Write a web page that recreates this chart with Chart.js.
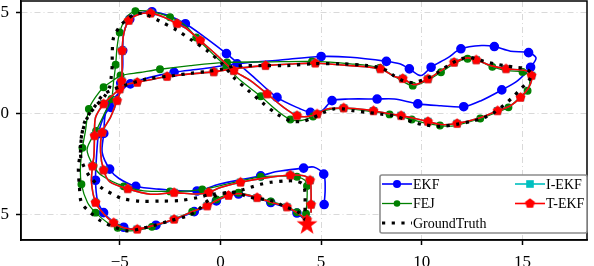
<!DOCTYPE html>
<html>
<head>
<meta charset="utf-8">
<script src="https://cdn.jsdelivr.net/npm/chart.js@4.4.1/dist/chart.umd.min.js"></script>
<style>
    html, body { margin: 0; padding: 0; background: #fff; }
    canvas { display: block; }
</style>
</head>
<body>
<canvas id="trajChart" width="594" height="266"></canvas>
<script>
// Axis ticks
const xTicks = [-5, 0, 5, 10, 15];
const yTicks = [-5, 0, 5];

// Start marker
const startPoint = [[4.3, -5.5]];

// Ground truth trajectory [x, y]
const gtPath = [
    [4.25,-5.3],[3.9,-4.9],[3.2,-4.6],[2.5,-4.3],[1.5,-4.15],[0.9,-3.95],[0.5,-3.88],[-0.2,-4.05],[-0.75,-4.4],
    [-1.15,-4.8],[-1.65,-5.06],[-2.5,-5.3],[-3.4,-5.56],[-4.0,-5.7],[-4.6,-5.8],[-5.3,-5.6],[-5.95,-5.3],
    [-6.45,-4.9],[-6.9,-4.4],[-7.0,-3.6],[-7.05,-2.7],[-6.95,-1.9],[-6.9,-1.2],[-6.75,-0.45],[-6.5,0.0],
    [-6.2,0.4],[-5.85,0.9],[-5.4,1.15],[-4.8,1.37],[-3.64,1.7],[-2.3,1.87],[-1.5,1.98],[-0.6,2.08],[0.15,2.2],
    [0.7,2.33],[2.0,2.36],[3.3,2.36],[4.6,2.45],[6.0,2.45],[7.3,2.36],[7.8,2.28],[8.3,2.1],[8.6,1.87],[9.1,1.6],
    [9.6,1.53],[10.3,1.75],[10.8,2.03],[11.3,2.36],[11.8,2.64],[12.27,2.77],[12.7,2.69],[13.1,2.57],[13.6,2.45],
    [14.1,2.36],[14.6,2.28],[15.17,2.2],[15.45,1.95],[15.3,1.6],[14.9,1.2],[14.5,0.79],[14.1,0.43],[13.6,0.05],
    [13.1,-0.2],[12.44,-0.4],[11.77,-0.53],[10.95,-0.64],[10.1,-0.56],[9.63,-0.45],[9.13,-0.28],[8.6,-0.11],
    [7.94,-0.03],[7.3,0.05],[6.6,0.13],[6.1,0.22],[5.63,0.22],[5.13,0.05],[4.63,-0.2],[4.05,-0.4],[3.47,-0.36],
    [2.81,-0.03],[2.07,0.54],[1.4,1.12],[0.66,1.78],[0.08,2.45],[-0.66,3.1],[-1.4,3.6],[-2.15,4.1],[-3.0,4.55],
    [-3.8,4.92],[-4.2,4.92],[-4.6,4.67],[-4.96,4.34],[-5.3,3.76],[-5.37,3.0],[-5.37,2.4],[-5.42,1.8],[-5.5,1.3],
    [-5.75,0.85],[-6.2,0.35],[-6.6,-0.2],[-6.85,-0.9],[-6.95,-1.6],[-6.9,-2.3],[-6.5,-3.1],[-5.8,-3.75],
    [-5.3,-4.0],[-4.9,-4.2],[-4.0,-4.33],[-3.0,-4.33],[-2.0,-4.3],[-1.1,-4.15],[-0.5,-4.0],[0.5,-3.92],[1.0,-3.8],
    [1.5,-3.65],[2.0,-3.5],[2.5,-3.4],[3.3,-3.33],[3.8,-3.35],[4.1,-3.5],[4.2,-3.9],[4.2,-4.5],[4.2,-4.95]
];

// EKF estimate
const ekfPath = [
    [4.25,-5.3],[3.8,-4.92],[3.2,-4.62],[2.5,-4.4],[1.8,-4.18],[0.9,-3.98],[0.4,-4.06],[-0.2,-4.32],[-0.66,-4.6],
    [-1.3,-4.85],[-2.3,-5.25],[-3.2,-5.52],[-4.1,-5.72],[-4.8,-5.62],[-5.3,-5.35],[-5.8,-4.9],[-6.1,-4.3],
    [-6.2,-3.3],[-6.15,-2.1],[-6.05,-1.0],[-5.85,-0.3],[-5.5,0.45],[-5.0,1.05],[-4.47,1.46],[-3.5,1.78],
    [-2.3,2.03],[-1.0,2.19],[0.83,2.45],[2.98,2.64],[5.0,2.81],[6.45,2.77],[8.24,2.57],[8.9,2.45],[9.38,2.2],
    [9.96,1.87],[10.46,2.28],[11.28,2.74],[11.94,3.19],[12.97,3.35],[13.6,3.3],[14.4,3.07],[15.3,3.0],
    [15.67,2.74],[15.4,2.28],[14.76,1.62],[13.97,1.16],[12.94,0.63],[12.08,0.33],[10.95,0.38],[9.8,0.47],
    [8.64,0.71],[7.78,0.71],[6.37,0.71],[5.54,0.63],[5.05,0.13],[4.47,0.05],[3.97,0.22],[2.81,0.79],[1.57,1.87],
    [0.3,2.95],[-1.0,3.93],[-1.74,4.43],[-2.6,4.85],[-3.4,5.02],[-4.0,4.95],[-4.5,4.65],[-4.8,3.95],[-4.85,3.1],
    [-4.85,2.3],[-4.95,1.5],[-5.1,0.71],[-5.45,0.3],[-5.71,-0.03],[-5.79,-0.99],[-5.87,-1.93],[-5.5,-2.75],
    [-5.05,-3.2],[-4.2,-3.6],[-3.06,-3.74],[-1.16,-3.83],[-0.08,-3.5],[2.0,-3.08],[2.81,-2.87],[4.13,-2.7],
    [4.63,-2.65],[5.13,-3.0],[5.2,-3.74],[5.15,-4.5]
];

// FEJ estimate
const fejPath = [
    [4.25,-5.3],[3.8,-4.88],[3.2,-4.55],[2.5,-4.35],[1.7,-4.1],[0.9,-3.92],[0.35,-4.0],[-0.2,-4.25],[-0.7,-4.55],
    [-1.4,-4.85],[-2.4,-5.25],[-3.4,-5.6],[-4.47,-5.8],[-5.1,-5.65],[-5.6,-5.4],[-6.2,-4.9],[-6.6,-4.4],
    [-6.9,-3.5],[-6.95,-2.67],[-6.85,-1.7],[-6.7,-0.86],[-6.53,0.22],[-6.2,0.8],[-5.8,1.29],[-5.3,1.65],
    [-4.96,1.87],[-4.0,2.02],[-3.0,2.18],[-1.5,2.36],[0.33,2.52],[2.24,2.54],[4.55,2.57],[6.45,2.45],[7.9,2.25],
    [8.77,1.75],[9.55,1.37],[10.3,1.65],[10.95,2.03],[11.6,2.45],[12.27,2.7],[12.8,2.6],[13.5,2.3],[14.26,2.11],
    [15.0,2.05],[15.35,1.8],[15.25,1.12],[14.8,0.72],[14.3,0.3],[13.7,0.05],[12.9,-0.25],[11.6,-0.61],
    [10.9,-0.6],[10.2,-0.48],[9.5,-0.3],[8.9,-0.15],[8.4,-0.05],[7.5,0.1],[6.1,0.25],[5.2,0.15],[4.6,-0.15],
    [4.0,-0.35],[3.47,-0.3],[2.8,0.15],[2.0,0.85],[1.0,1.62],[0.3,2.3],[-0.5,3.05],[-1.2,3.75],[-1.74,4.34],
    [-2.5,4.75],[-3.3,5.0],[-4.22,5.05],[-4.7,4.7],[-5.0,4.0],[-5.13,3.27],[-5.2,2.4],[-5.3,1.6],[-5.41,0.71],
    [-5.8,-0.1],[-6.17,-0.86],[-6.62,-1.78],[-6.3,-2.6],[-5.87,-3.08],[-4.8,-3.6],[-3.8,-3.82],[-2.5,-3.85],
    [-1.5,-3.82],[-0.9,-3.75],[0.5,-3.45],[2.0,-3.13],[3.2,-3.1],[3.8,-3.13],[4.2,-3.3],[4.3,-3.58],[4.3,-4.24],
    [4.25,-4.95]
];

// T-EKF estimate
const tekfPath = [
    [4.3,-5.25],[3.8,-4.9],[3.3,-4.62],[2.56,-4.4],[1.82,-4.16],[0.91,-3.96],[0.4,-4.05],[-0.2,-4.3],[-0.66,-4.57],
    [-1.32,-4.82],[-2.3,-5.23],[-3.2,-5.5],[-4.13,-5.72],[-4.8,-5.65],[-5.3,-5.4],[-5.8,-4.95],[-6.2,-4.4],
    [-6.4,-3.4],[-6.35,-2.6],[-6.28,-2.1],[-6.25,-1.1],[-6.2,-0.2],[-5.8,0.47],[-5.37,0.88],[-5.0,1.2],
    [-4.55,1.46],[-4.13,1.53],[-3.3,1.7],[-2.65,1.82],[-1.5,1.95],[-0.33,2.05],[0.58,2.2],[2.24,2.36],[3.5,2.44],
    [4.71,2.48],[6.45,2.36],[7.94,2.2],[8.64,1.82],[9.05,1.72],[9.63,1.42],[10.3,1.7],[10.95,2.11],[11.6,2.52],
    [12.27,2.74],[12.7,2.64],[13.43,2.36],[14.18,2.2],[15.17,2.11],[15.45,1.87],[15.33,1.32],[14.9,0.79],
    [14.4,0.38],[13.76,0.13],[12.94,-0.2],[11.75,-0.5],[10.95,-0.55],[10.3,-0.4],[9.55,-0.23],[8.97,-0.11],
    [8.44,-0.03],[7.6,0.13],[6.9,0.22],[6.12,0.27],[5.3,0.22],[4.8,-0.03],[4.3,-0.16],[3.8,-0.11],[3.14,0.3],
    [2.32,0.96],[1.49,1.62],[0.66,2.11],[-0.16,2.86],[-1.0,3.6],[-1.74,4.23],[-2.15,4.43],[-2.8,4.75],
    [-3.47,4.95],[-4.05,4.89],[-4.55,4.59],[-4.8,3.93],[-4.88,3.1],[-4.88,2.27],[-4.9,1.6],[-4.96,1.12],
    [-5.13,0.63],[-5.46,-0.2],[-5.87,-0.94],[-5.95,-1.9],[-5.8,-2.8],[-5.5,-3.37],[-4.6,-3.72],[-3.47,-3.99],
    [-2.3,-3.91],[-1.3,-3.98],[-0.58,-3.9],[0.0,-3.66],[1.0,-3.4],[2.32,-3.17],[3.47,-3.05],[4.13,-3.08],
    [4.45,-3.3],[4.5,-3.9],[4.5,-4.5],[4.5,-4.9]
];

// I-EKF estimate (lies under T-EKF everywhere in the figure)
const iekfPath = tekfPath.map(p => p.slice());

const FONT = "'Liberation Serif', 'Times New Roman', serif";

// Marker images
function makePolyStar(points, outer, inner, color) {
    const size = Math.ceil(outer * 2 + 2);
    const c = document.createElement('canvas');
    c.width = size; c.height = size;
    const g = c.getContext('2d');
    g.translate(size / 2, size / 2);
    g.beginPath();
    const n = inner ? points * 2 : points;
    for (let i = 0; i < n; i++) {
        const r = inner && i % 2 ? inner : outer;
        const a = -Math.PI / 2 + i * 2 * Math.PI / n;
        g.lineTo(r * Math.cos(a), r * Math.sin(a));
    }
    g.closePath();
    g.fillStyle = color;
    g.fill();
    return c;
}
const pentagonImg = makePolyStar(5, 5.2, 0, '#ff0000');
const starImg = makePolyStar(5, 11, 4.4, '#ff0000');

const toPoints = path => path.map(([x, y]) => ({ x, y }));
const every = (n, off, r) => ctx => (ctx.dataIndex % n === off ? r : 0);

const datasets = [
    {
        label: 'Start', data: toPoints(startPoint), showLine: false,
        pointStyle: starImg, pointRadius: 8, order: 0
    },
    {
        label: 'GroundTruth', data: toPoints(gtPath), showLine: true, tension: 0.3,
        borderColor: '#000', borderWidth: 3.2, borderDash: [3.2, 6.5], borderCapStyle: 'butt',
        pointRadius: 0, order: 1
    },
    {
        label: 'T-EKF', data: toPoints(tekfPath), showLine: true, tension: 0.3,
        borderColor: '#ff0000', borderWidth: 1.6,
        pointStyle: pentagonImg, pointRadius: every(2, 0, 5), order: 2
    },
    {
        label: 'I-EKF', data: toPoints(iekfPath), showLine: true, tension: 0.3,
        borderColor: '#00bfbf', borderWidth: 1.6,
        pointStyle: 'rect', pointRadius: every(2, 0, 4.2), pointBackgroundColor: '#00bfbf',
        pointBorderColor: '#00bfbf', order: 3
    },
    {
        label: 'FEJ', data: toPoints(fejPath), showLine: true, tension: 0.3,
        borderColor: '#008000', borderWidth: 1.3,
        pointStyle: 'circle', pointRadius: every(2, 1, 3.3), pointBackgroundColor: '#008000',
        pointBorderColor: '#008000', order: 4
    },
    {
        label: 'EKF', data: toPoints(ekfPath), showLine: true, tension: 0.3,
        borderColor: '#0000ff', borderWidth: 1.6,
        pointStyle: 'circle', pointRadius: every(2, 1, 4), pointBackgroundColor: '#0000ff',
        pointBorderColor: '#0000ff', order: 5
    }
];

const fmt = v => (v < 0 ? '\u2212' + Math.abs(v) : String(v));

// Frame around plot area
const framePlugin = {
    id: 'frame',
    afterDatasetsDraw(chart) {
        const { ctx, chartArea: a } = chart;
        ctx.save();
        ctx.strokeStyle = '#000';
        ctx.lineWidth = 1.5;
        ctx.strokeRect(a.left, a.top, a.right - a.left, a.bottom - a.top);
        ctx.restore();
    }
};

// Legend box in the lower right corner
const legendPlugin = {
    id: 'boxLegend',
    afterDraw(chart) {
        const { ctx, chartArea: a } = chart;
        const left = a.right - 207, top = a.bottom - 65, w = 207, h = 58;
        ctx.save();
        ctx.fillStyle = '#fff';
        ctx.strokeStyle = '#8c8c8c';
        ctx.lineWidth = 1.6;
        ctx.beginPath();
        ctx.roundRect(left, top, w, h, 2);
        ctx.fill();
        ctx.stroke();

        const items = [
            { ds: 'EKF', col: 0, row: 0 }, { ds: 'FEJ', col: 0, row: 1 },
            { ds: 'GroundTruth', col: 0, row: 2 }, { ds: 'I-EKF', col: 1, row: 0 },
            { ds: 'T-EKF', col: 1, row: 1 }
        ];
        ctx.font = '14px ' + FONT;
        ctx.textBaseline = 'middle';
        ctx.fillStyle = '#000';
        items.forEach(it => {
            const d = chart.data.datasets.find(s => s.label === it.ds);
            const x0 = left + 2 + it.col * 133;
            const y = top + 9 + it.row * 19.5;
            ctx.save();
            ctx.strokeStyle = d.borderColor;
            ctx.lineWidth = d.borderWidth;
            ctx.setLineDash(d.borderDash || []);
            ctx.beginPath();
            ctx.moveTo(x0, y);
            ctx.lineTo(x0 + 30, y);
            ctx.stroke();
            ctx.restore();
            const mx = x0 + 15;
            if (d.pointStyle === 'circle') {
                ctx.fillStyle = d.borderColor;
                ctx.beginPath();
                ctx.arc(mx, y, it.ds === 'FEJ' ? 3.3 : 4, 0, Math.PI * 2);
                ctx.fill();
            } else if (d.pointStyle === 'rect') {
                ctx.fillStyle = d.borderColor;
                ctx.fillRect(mx - 3.8, y - 3.8, 7.6, 7.6);
            } else if (d.pointStyle === pentagonImg) {
                ctx.drawImage(pentagonImg, mx - pentagonImg.width / 2, y - pentagonImg.height / 2);
            }
            ctx.fillStyle = '#000';
            ctx.fillText(it.ds, x0 + 31, y + 1);
        });
        ctx.restore();
    }
};

const axisCommon = {
    type: 'linear',
    ticks: { font: { family: FONT, size: 17 }, color: '#000', callback: fmt, autoSkip: false, maxRotation: 0 },
    grid: { color: '#d9d9d9', lineWidth: 1, tickLength: 5, tickColor: '#000', tickWidth: 1.5 },
    border: { color: '#000', width: 1.5, dash: [6, 3, 1, 3] }
};

function buildChart() {
    return new Chart(document.getElementById('trajChart').getContext('2d'), {
        type: 'scatter',
        data: { datasets },
        options: {
            responsive: false,
            animation: false,
            devicePixelRatio: 1,
            layout: { autoPadding: false, padding: { top: 1, right: 7, left: 0, bottom: 0 } },
            plugins: { legend: { display: false }, tooltip: { enabled: false } },
            scales: {
                x: {
                    ...axisCommon, min: -9.9, max: 18.2,
                    ticks: { ...axisCommon.ticks, padding: 7 },
                    afterBuildTicks: axis => { axis.ticks = xTicks.map(v => ({ value: v })); },
                    afterFit: axis => { axis.height = 26; axis.paddingLeft = 0; axis.paddingRight = 0; }
                },
                y: {
                    ...axisCommon, min: -6.25, max: 5.55,
                    ticks: { ...axisCommon.ticks, font: { family: FONT, size: 17, lineHeight: 0.1 }, padding: 7 },
                    afterBuildTicks: axis => { axis.ticks = yTicks.map(v => ({ value: v })); },
                    afterFit: axis => { axis.width = 21; axis.paddingTop = 0; axis.paddingBottom = 0; }
                }
            }
        },
        plugins: [framePlugin, legendPlugin]
    });
}

const fontReady = document.fonts && document.fonts.load
    ? Promise.all([document.fonts.load("17px 'Liberation Serif'"), document.fonts.load("14px 'Liberation Serif'")])
    : Promise.resolve();
let chart;
fontReady.then(() => { chart = buildChart(); }, () => { chart = buildChart(); });
</script>
</body>
</html>
